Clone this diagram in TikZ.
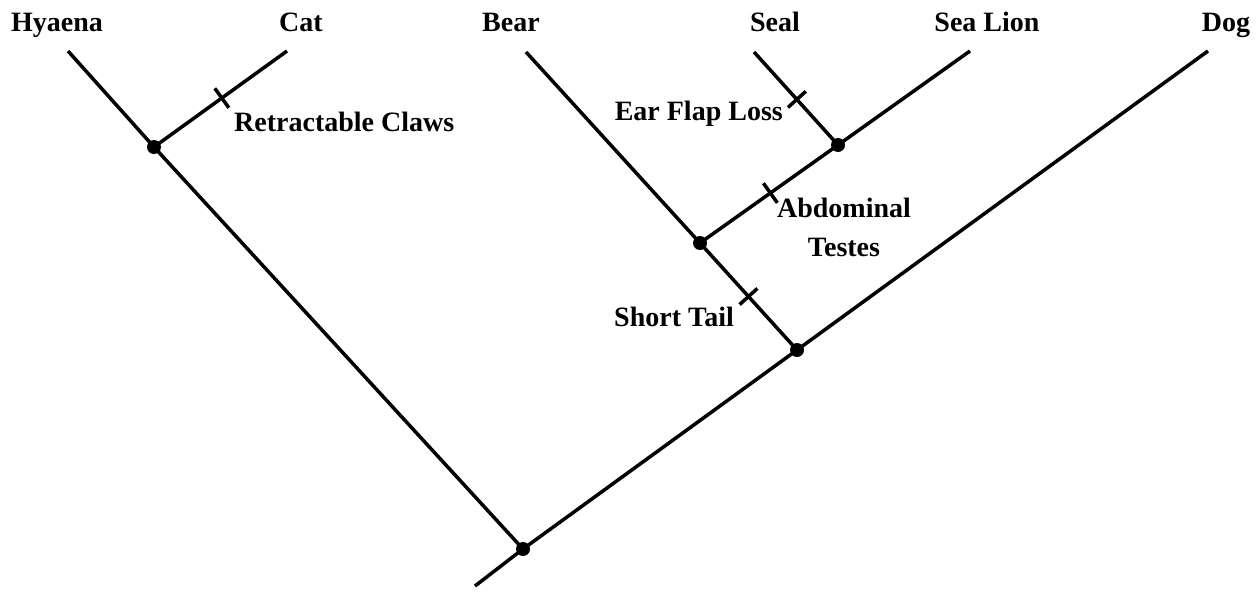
\documentclass[tikz,border=0pt]{standalone}
\usepackage{fontspec}
\setmainfont{Liberation Serif}
\usetikzlibrary{calc}
\begin{document}
\begin{tikzpicture}[x=1pt,y=-1pt,
  branch/.style={line width=3.5pt},
  tickmark/.style={line width=3.5pt},
  dot/.style={circle,fill=black,inner sep=0pt,minimum size=14pt},
  taxon/.style={font=\fontsize{28}{31}\selectfont\bfseries,anchor=base,inner sep=0pt},
  trait/.style={font=\fontsize{28}{31}\selectfont\bfseries,inner sep=0pt}]
\useasboundingbox (0,0) rectangle (1259,592);
% taxa labels
\node[taxon] (lhy) at (57,31) {Hyaena};
\node[taxon] (lcat) at (301,31) {Cat};
\node[taxon] (lbear) at (511,31) {Bear};
\node[taxon] (lseal) at (775,31) {Seal};
\node[taxon] (lsl) at (987,31) {Sea Lion};
\node[taxon] (ldog) at (1226,31) {Dog};
% tips
\coordinate (hy) at (68,51);
\coordinate (cat) at (287,51);
\coordinate (bear) at (526,52);
\coordinate (seal) at (754,52);
\coordinate (sl) at (970,51);
\coordinate (dog) at (1208,51);
\coordinate (stem) at (475,586);
% internal nodes
\coordinate (nfel) at (154,147);
\coordinate (nroot) at (523,549);
\coordinate (ncan) at (797,350);
\coordinate (narc) at (700,243);
\coordinate (npin) at (838,145);
% branches
\draw[branch] (hy) -- (nfel) -- (nroot);
\draw[branch] (nfel) -- (cat);
\draw[branch] (stem) -- (nroot) -- (ncan) -- (dog);
\draw[branch] (bear) -- (narc) -- (ncan);
\draw[branch] (narc) -- (npin) -- (sl);
\draw[branch] (seal) -- (npin);
% dots
\foreach \n in {nfel,nroot,ncan,narc,npin} \node[dot] at (\n) {};
% ticks
\coordinate (t1) at ($(nfel)!0.51!(cat)$);
\coordinate (t2) at ($(npin)!0.49!(seal)$);
\coordinate (t3) at ($(narc)!0.51!(npin)$);
\coordinate (t4) at ($(ncan)!0.5!(narc)$);
\draw[tickmark] ($(t1)!12pt!90:(cat)$) -- ($(t1)!12pt!-90:(cat)$);
\draw[tickmark] ($(t2)!12pt!90:(seal)$) -- ($(t2)!12pt!-90:(seal)$);
\draw[tickmark] ($(t3)!12pt!90:(npin)$) -- ($(t3)!12pt!-90:(npin)$);
\draw[tickmark] ($(t4)!12pt!90:(narc)$) -- ($(t4)!12pt!-90:(narc)$);
% trait labels
\node[trait,anchor=base west] (tr1) at (234,131) {Retractable Claws};
\node[trait,anchor=base east] (tr2) at (783,120) {Ear Flap Loss};
\node[trait,anchor=north,align=center] (tr3) at (844,198) {Abdominal\\[8pt]Testes};
\node[trait,anchor=base east] (tr4) at (734,326) {Short Tail};
\end{tikzpicture}
\end{document}
